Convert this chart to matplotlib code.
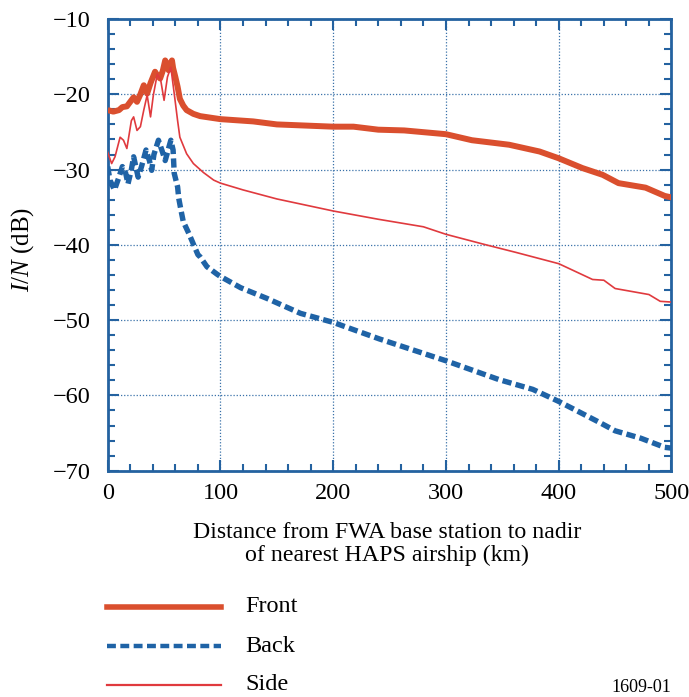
import matplotlib
matplotlib.use("Agg")
import matplotlib.pyplot as plt
from matplotlib.ticker import MultipleLocator
from matplotlib.lines import Line2D

plt.rcParams['font.family'] = ['Liberation Serif', 'DejaVu Serif']
plt.rcParams['mathtext.fontset'] = 'custom'
plt.rcParams['mathtext.it'] = 'Liberation Serif:italic'
plt.rcParams['mathtext.rm'] = 'Liberation Serif'
plt.rcParams['mathtext.default'] = 'it'

# Front (thick orange-red)
front_x = [0, 5, 10, 13, 17, 20, 23, 26, 29, 32, 35, 38, 42, 44, 46.5, 49, 51, 53, 54, 56, 57, 58, 60, 62, 64, 67, 70, 76, 82,
           100, 129, 150, 200, 218, 240, 263, 300, 323, 356, 383, 400, 421, 439, 453, 477, 494, 500]
front_y = [-22.1, -22.3, -22.1, -21.7, -21.6, -21.0, -20.4, -21.0, -20.0, -18.8, -19.9, -18.5, -17.0, -17.5, -17.9, -16.8, -15.5, -16.2, -16.8, -15.8, -15.5, -16.5, -17.7, -19.0, -20.6, -21.5, -22.1, -22.6, -22.9,
           -23.3, -23.6, -24.0, -24.3, -24.3, -24.7, -24.8, -25.3, -26.1, -26.7, -27.6, -28.5, -29.8, -30.7, -31.8, -32.4, -33.5, -33.7]

# Back (blue dashed)
back_x = [0, 2, 6, 10, 13, 16, 18, 21, 23, 27, 30, 34, 37, 39, 41, 45, 48, 51, 56, 58, 59, 62, 63, 65, 67, 72, 80, 82, 88, 97,
          100, 118, 141, 171, 200, 241, 300, 347, 377, 400, 435, 450, 473, 494, 500]
back_y = [-29.6, -31.4, -32.7, -31.0, -29.6, -30.5, -31.9, -30.0, -28.3, -31.0, -29.6, -27.4, -28.8, -30.1, -28.0, -26.1, -27.4, -28.8, -26.1, -27.4, -30.5, -32.3, -33.8, -35.4, -36.9, -38.5, -41.3, -41.6, -42.9, -43.9,
          -44.2, -45.7, -47.1, -49.1, -50.3, -52.5, -55.4, -57.9, -59.2, -60.8, -63.5, -64.7, -65.7, -66.9, -67.0]

# Side (thin red)
side_x = [0, 3.5, 6.5, 11, 14, 17, 21, 23, 26, 29, 32, 35, 38, 40.5, 44, 47, 50, 53, 56, 59, 62, 64, 70, 76, 85, 94,
          100, 120, 150, 200, 240, 280, 300, 333, 362, 400, 430, 440, 450, 480, 490, 500]
side_y = [-27.7, -29.2, -28.3, -25.7, -26.1, -27.2, -23.5, -23.0, -24.8, -24.3, -22.1, -20.1, -23.0, -20.1, -17.3, -18.1, -20.8, -17.7, -16.4, -19.9, -23.5, -25.7, -27.9, -29.2, -30.4, -31.4,
          -31.8, -32.7, -33.9, -35.5, -36.6, -37.6, -38.6, -39.9, -41.0, -42.5, -44.6, -44.7, -45.8, -46.6, -47.5, -47.6]

xticks = [0, 100, 200, 300, 400, 500]
yticks = [-10, -20, -30, -40, -50, -60, -70]
series_names = ['Front', 'Back', 'Side']

c_front = '#DA4F2E'
c_back = '#1F63A6'
c_side = '#E03A3E'
c_axis = '#2462A0'

fig = plt.figure(figsize=(6.89, 6.97), dpi=100)
ax = fig.add_axes([0.1563, 0.3247, 0.9746 - 0.1563, 0.9727 - 0.3247])

ax.plot(front_x, front_y, color=c_front, lw=4.3, solid_capstyle='butt', zorder=3)
ax.plot(side_x, side_y, color=c_side, lw=1.2, zorder=4)
ax.plot(back_x, back_y, color=c_back, lw=3.9, linestyle=(0, (1.7, 0.8)), zorder=3)

ax.set_xlim(0, 500)
ax.set_ylim(-70, -10)
ax.set_xticks(xticks)
ax.set_yticks(yticks)
ax.set_xticklabels([str(v) for v in xticks])
ax.set_yticklabels(['\u2212' + str(-v) for v in yticks])
ax.xaxis.set_minor_locator(MultipleLocator(20))
ax.yaxis.set_minor_locator(MultipleLocator(2))
ax.tick_params(which='both', direction='in', top=True, right=True, color=c_axis, labelsize=17.5)
ax.tick_params(axis='y', which='both', pad=12)
ax.tick_params(axis='x', which='both', pad=9)
ax.tick_params(which='major', length=8, width=1.5)
ax.tick_params(which='minor', length=5, width=1.5)
for s in ax.spines.values():
    s.set_color(c_axis)
    s.set_linewidth(2)
ax.grid(True, which='major', color=c_axis, linestyle=(0, (1, 1.5)), linewidth=0.9, alpha=0.9)
ax.set_axisbelow(True)

ax.set_ylabel('$I/N$ (dB)', fontsize=18)
ax.yaxis.set_label_coords(-0.128, 0.49)

fig.text(387 / 689, 1 - 544 / 697, 'Distance from FWA base station to nadir\nof nearest HAPS airship (km)',
         ha='center', va='center', fontsize=17.2, linespacing=1.12)

# Legend
leg_y = [607, 646, 685]
styles = [dict(color=c_front, lw=4.0), dict(color=c_back, lw=3.2, linestyle=(0, (2.0, 1.0))), dict(color=c_side, lw=1.6)]
for name, yy, st in zip(series_names, leg_y, styles):
    fy = 1 - yy / 697
    fig.add_artist(Line2D([107 / 689, 221 / 689], [fy, fy], transform=fig.transFigure, **st))
    fig.text(245 / 689, fy, name, ha='left', va='center', fontsize=17.5)

fig.text(641 / 689, 1 - 688 / 697, '1609-01', ha='center', va='center', fontsize=13)

fig.savefig('out.png', dpi=100)
